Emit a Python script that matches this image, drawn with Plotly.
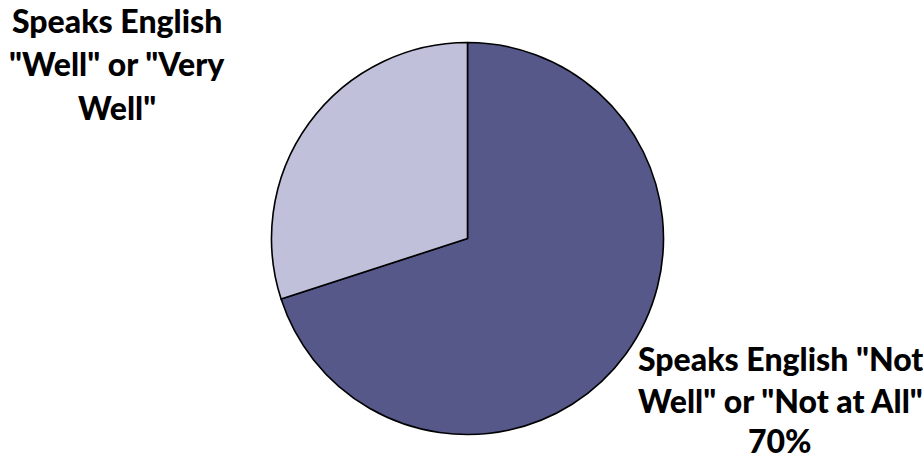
import plotly.graph_objects as go

# Share of respondents by self-reported English ability
categories = ['Speaks English "Not Well" or "Not at All"', 'Speaks English "Well" or "Very Well"']
values = [70, 30]
colors = ["#56588a", "#c0c0da"]

W, H = 923, 461
cx, cy, r = 467.5, 238.5, 196

fig = go.Figure(go.Pie(
    labels=categories,
    values=values,
    sort=False,
    direction="clockwise",
    rotation=0,
    textinfo="none",
    hoverinfo="label+percent",
    marker=dict(colors=colors, line=dict(color="#000000", width=1.6)),
    domain=dict(x=[(cx - r) / W, (cx + r) / W], y=[1 - (cy + r) / H, 1 - (cy - r) / H]),
    showlegend=False,
))

font = dict(family="Lato", size=32, color="#000000", weight=900)

# Outside labels, one annotation per line so the line spacing can be set
label_lines = [
    (117, ["Speaks English", '"Well" or "Very', 'Well"'], [21, 64, 107]),
    (780, ['Speaks English "Not', 'Well" or "Not at All"', f"{values[0]}%"], [358, 400, 440]),
]
for x, lines, ys in label_lines:
    for text, y in zip(lines, ys):
        fig.add_annotation(
            x=x / W, y=1 - y / H, xref="paper", yref="paper",
            text=text, showarrow=False, font=font,
            xanchor="center", yanchor="middle",
        )

fig.update_layout(
    width=W, height=H,
    margin=dict(l=0, r=0, t=0, b=0),
    paper_bgcolor="#ffffff",
    plot_bgcolor="#ffffff",
)

fig.write_html("out.html")
